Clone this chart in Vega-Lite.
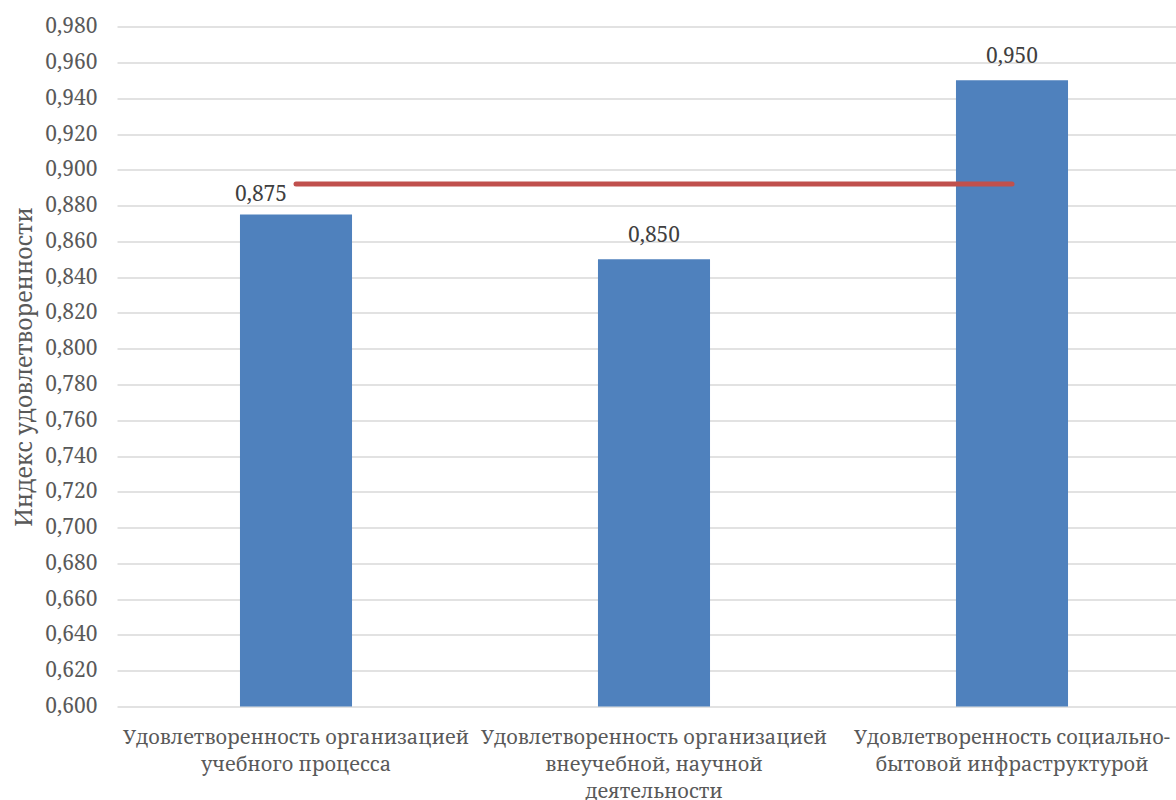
{
  "$schema": "https://vega.github.io/schema/vega-lite/v6.json",
  "width": 1059,
  "height": 680,
  "autosize": {"type": "none"},
  "padding": {"left": 117, "top": 26.5, "right": 0, "bottom": 93.5},
  "data": {
    "values": [
      {"category": "Удовлетворенность организацией учебного процесса", "index": 0.875, "average": 0.892},
      {"category": "Удовлетворенность организацией внеучебной, научной деятельности", "index": 0.85, "average": 0.892},
      {"category": "Удовлетворенность социально-бытовой инфраструктурой", "index": 0.95, "average": 0.892}
    ]
  },
  "encoding": {
    "x": {
      "field": "category",
      "type": "nominal",
      "sort": null,
      "scale": {"range": [0, 1074], "paddingInner": 0.687, "paddingOuter": 0.3435},
      "axis": {
        "title": null,
        "labelAngle": 0,
        "labelLimit": 0,
        "ticks": false,
        "domain": false,
        "labelPadding": 21,
        "labelFontSize": 20,
        "labelLineHeight": 27,
        "labelColor": "#595959",
        "labelExpr": "datum.value == 'Удовлетворенность организацией учебного процесса' ? ['Удовлетворенность организацией', 'учебного процесса'] : datum.value == 'Удовлетворенность организацией внеучебной, научной деятельности' ? ['Удовлетворенность организацией', 'внеучебной, научной', 'деятельности'] : ['Удовлетворенность социально-', 'бытовой инфраструктурой']"
      }
    },
    "y": {
      "field": "index",
      "type": "quantitative",
      "scale": {"domain": [0.6, 0.9801], "nice": false, "zero": false},
      "axis": {
        "title": "Индекс удовлетворенности",
        "values": [0.6, 0.62, 0.64, 0.66, 0.68, 0.7, 0.72, 0.74, 0.76, 0.78, 0.8, 0.82, 0.84, 0.86, 0.88, 0.9, 0.92, 0.94, 0.96, 0.98],
        "tickCount": 25,
        "format": ".3f",
        "labelOverlap": false,
        "ticks": false,
        "domain": false,
        "grid": true,
        "gridColor": "#D9D9D9",
        "gridWidth": 1.5,
        "labelPadding": 20,
        "labelFontSize": 21,
        "labelColor": "#595959",
        "titleFontSize": 23,
        "titleFontWeight": "normal",
        "titleColor": "#595959",
        "titlePadding": 8
      }
    }
  },
  "layer": [
    {
      "mark": {"type": "bar", "color": "#4F81BD"},
      "encoding": {
        "y2": {"datum": 0.6}
      }
    },
    {
      "transform": [{"filter": "datum.category != 'Удовлетворенность организацией учебного процесса'"}],
      "mark": {"type": "text", "baseline": "alphabetic", "dy": -17, "fontSize": 21, "color": "#404040"},
      "encoding": {
        "text": {"field": "index", "type": "quantitative", "format": ".3f"}
      }
    },
    {
      "transform": [{"filter": "datum.category == 'Удовлетворенность организацией учебного процесса'"}],
      "mark": {"type": "text", "baseline": "alphabetic", "dy": -14, "dx": -35, "fontSize": 21, "color": "#404040"},
      "encoding": {
        "text": {"field": "index", "type": "quantitative", "format": ".3f"}
      }
    },
    {
      "mark": {"type": "line", "color": "#C0504D", "strokeWidth": 5, "strokeCap": "round"},
      "encoding": {
        "y": {"field": "average", "type": "quantitative"}
      }
    }
  ],
  "config": {
    "font": "Noto Serif",
    "view": {"stroke": null},
    "locale": {"number": {"decimal": ",", "thousands": " ", "grouping": [3], "currency": ["", ""]}}
  }
}
